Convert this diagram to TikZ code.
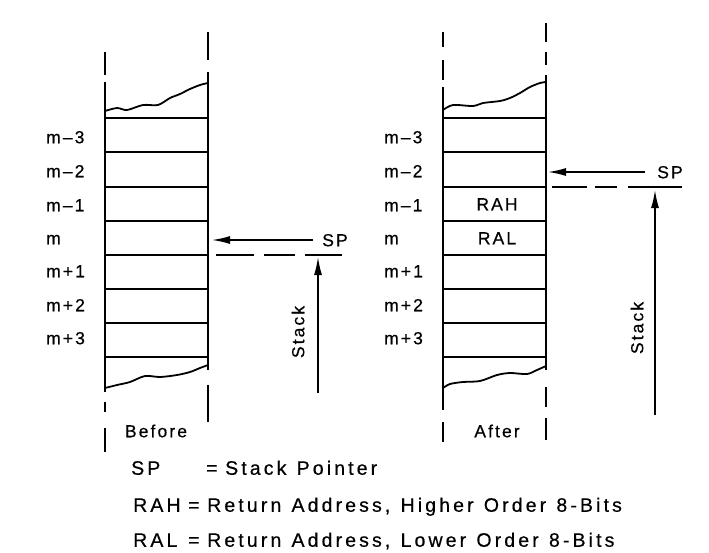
\documentclass[tikz,border=0pt]{standalone}
\usepackage{fontspec}
\setmainfont{Liberation Sans}[LetterSpace=12,FakeBold=0.5]
\newfontfamily\legendfont{Liberation Sans}[LetterSpace=16,WordSpace=1.2,FakeBold=0.5]
\usetikzlibrary{arrows.meta}
\begin{document}
\begin{tikzpicture}[x=1pt,y=-1pt,
  wall/.style={line width=2pt},
  rowline/.style={line width=1.8pt},
  wavy/.style={line width=1.8pt},
  ptr/.style={line width=1.5pt,-{Latex[length=18pt,width=8pt]}},
  sep/.style={line width=1.5pt},
  lbl/.style={font=\fontsize{17.5}{20}\selectfont,inner sep=0pt,text height=12.5pt,text depth=0pt},
  key/.style={font=\legendfont\fontsize{19.5}{22}\selectfont,inner sep=0pt,text height=13.5pt,text depth=0pt,anchor=west}]
\useasboundingbox (0,0) rectangle (709,552);
% ---------- left stack (Before)
\draw[wall] (105,52)--(105,75) (105,82)--(105,392) (105,402)--(105,412) (105,428)--(105,452);
\draw[wall] (208,32)--(208,60) (208,72)--(208,370) (208,385)--(208,422);
\foreach \yy in {118,152,187,221,255,289,323,357}
  \draw[rowline] (105,\yy)--(208,\yy);
\draw[wavy] plot[smooth] coordinates {(105,111)(117,108)(127,110)(143,105)(158,105)(170,98)(180,94)(190,89)(200,85)(208,83)};
\draw[wavy] plot[smooth] coordinates {(105,388)(117,385)(130,382)(145,376)(160,377)(177,375)(190,372)(200,368)(208,365)};
\node[lbl,anchor=west] (l3) at (46,137) {m–3};
\node[lbl,anchor=west] (l2) at (46,171) {m–2};
\node[lbl,anchor=west] (l1) at (46,205) {m–1};
\node[lbl,anchor=west] (l0) at (46,238) {m};
\node[lbl,anchor=west] (lp1) at (46,271) {m+1};
\node[lbl,anchor=west] (lp2) at (46,305) {m+2};
\node[lbl,anchor=west] (lp3) at (46,338) {m+3};
\node[lbl] (before) at (156,431) {Before};
\coordinate (spLs) at (313,240);
\coordinate (spLt) at (212,240);
\node[lbl] (spL) at (335,240) {SP};
\draw[ptr] (spLs) -- (spLt);
\coordinate (dLa) at (216,255);
\coordinate (dLb) at (342,255);
\draw[sep,dash pattern=on 38pt off 10pt on 31pt off 10pt on 40pt] (dLa)--(dLb);
\coordinate (stLs) at (318,393);
\coordinate (stLt) at (318,257);
\draw[ptr] (stLs) -- (stLt);
\node[lbl,rotate=90] (stackL) at (298,332) {Stack};
% ---------- right stack (After)
\draw[wall] (443,32)--(443,47) (443,60)--(443,80) (443,87)--(443,410) (443,422)--(443,442);
\draw[wall] (546,23)--(546,42) (546,52)--(546,65) (546,75)--(546,370) (546,387)--(546,407) (546,418)--(546,440);
\foreach \yy in {118,152,187,221,255,289,323,357}
  \draw[rowline] (443,\yy)--(546,\yy);
\draw[wavy] plot[smooth] coordinates {(443,110)(453,105)(473,106)(483,103)(500,101)(510,98)(520,93)(530,87)(540,83)(546,82)};
\draw[wavy] plot[smooth] coordinates {(443,388)(450,384)(463,382)(480,381)(497,375)(510,373)(527,374)(537,370)(546,366)};
\node[lbl,anchor=west] (r3) at (384,137) {m–3};
\node[lbl,anchor=west] (r2) at (384,171) {m–2};
\node[lbl,anchor=west] (r1) at (384,205) {m–1};
\node[lbl,anchor=west] (r0) at (384,238) {m};
\node[lbl,anchor=west] (rp1) at (384,271) {m+1};
\node[lbl,anchor=west] (rp2) at (384,305) {m+2};
\node[lbl,anchor=west] (rp3) at (384,338) {m+3};
\node[lbl] (rah) at (497,204) {RAH};
\node[lbl] (ral) at (497,238) {RAL};
\node[lbl] (after) at (497,431) {After};
\coordinate (spRs) at (645,172);
\coordinate (spRt) at (548,172);
\node[lbl] (spR) at (670,172) {SP};
\draw[ptr] (spRs) -- (spRt);
\coordinate (dRa) at (552,187);
\coordinate (dRb) at (682,187);
\draw[sep,dash pattern=on 35pt off 8pt on 22pt off 11pt on 56pt] (dRa)--(dRb);
\coordinate (stRs) at (655,415);
\coordinate (stRt) at (655,190);
\draw[ptr] (stRs) -- (stRt);
\node[lbl,rotate=90] (stackR) at (637,328) {Stack};
% ---------- legend
\node[key] (kSP) at (131,468) {SP};
\node[key] (kSPe) at (206,468) {=};
\node[key] (kSPt) at (225,468) {Stack Pointer};
\node[key] (kRAH) at (133,505) {RAH};
\node[key] (kRAHe) at (188,505) {=};
\node[key] (kRAHt) at (207,505) {Return Address, Higher Order 8-Bits};
\node[key] (kRAL) at (133,540) {RAL};
\node[key] (kRALe) at (188,540) {=};
\node[key] (kRALt) at (207,540) {Return Address, Lower Order 8-Bits};
\end{tikzpicture}
\end{document}
